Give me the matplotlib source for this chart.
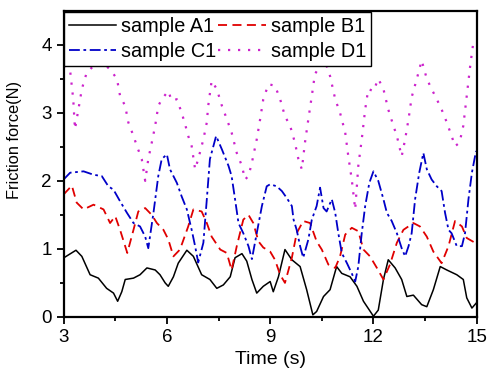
"""Friction force vs time for four samples."""

import matplotlib

matplotlib.use("Agg")
import matplotlib.pyplot as plt

# sample A1 (black, solid)
a1_t = [3.01, 3.2, 3.36, 3.53, 3.77, 4.01, 4.25, 4.45, 4.57, 4.69, 4.79, 5.03, 5.22,
        5.42, 5.66, 5.80, 5.95, 6.04, 6.19, 6.33, 6.58, 6.77, 7.01, 7.25, 7.45, 7.64,
        7.84, 7.98, 8.18, 8.32, 8.47, 8.61, 8.80, 9.0, 9.09, 9.24, 9.43, 9.63, 9.87,
        10.06, 10.24, 10.35, 10.55, 10.74, 10.93, 11.08, 11.32, 11.52, 11.71, 12.0,
        12.14, 12.29, 12.43, 12.63, 12.82, 12.97, 13.16, 13.40, 13.55, 13.74, 13.94,
        14.13, 14.42, 14.61, 14.71, 14.86, 14.98]
a1_f = [0.87, 0.93, 0.98, 0.89, 0.62, 0.57, 0.42, 0.35, 0.23, 0.37, 0.55, 0.57, 0.62,
        0.72, 0.69, 0.62, 0.50, 0.45, 0.59, 0.79, 0.98, 0.89, 0.62, 0.55, 0.42, 0.47,
        0.59, 0.87, 0.93, 0.82, 0.55, 0.35, 0.45, 0.52, 0.37, 0.59, 0.99, 0.84, 0.74,
        0.40, 0.03, 0.08, 0.30, 0.40, 0.74, 0.64, 0.59, 0.45, 0.23, 0.01,
        0.10, 0.55, 0.84, 0.72, 0.55, 0.30, 0.32, 0.18, 0.15, 0.40, 0.74,
        0.69, 0.62, 0.55, 0.28, 0.13, 0.20]

# sample B1 (red, dashed)
b1_t = [3.0, 3.24, 3.38, 3.58, 3.87, 4.16, 4.35, 4.50, 4.64, 4.85, 5.03, 5.17, 5.37,
        5.56, 5.71, 5.90, 6.04, 6.19, 6.38, 6.62, 6.77, 7.01, 7.16, 7.30, 7.55, 7.74,
        7.88, 8.03, 8.22, 8.37, 8.51, 8.66, 8.80, 9.0, 9.14, 9.29, 9.43, 9.63, 9.77,
        9.96, 10.16, 10.35, 10.50, 10.69, 10.89, 11.03, 11.18, 11.37, 11.56, 11.71,
        11.90, 12.10, 12.29, 12.48, 12.68, 12.87, 13.16, 13.35, 13.55, 13.74, 13.98,
        14.18, 14.37, 14.57, 14.71, 14.95]
b1_f = [1.80, 1.93, 1.68, 1.58, 1.65, 1.58, 1.38, 1.48, 1.28, 0.94, 1.28, 1.55, 1.60,
        1.50, 1.38, 1.28, 1.14, 0.89, 0.99, 1.33, 1.58, 1.55, 1.38, 1.18, 0.99, 0.94,
        0.69, 1.04, 1.43, 1.50, 1.38, 1.11, 1.02, 0.96, 0.84, 0.62, 0.50, 0.87, 1.23,
        1.41, 1.38, 1.11, 0.99, 0.77, 0.72, 0.89, 1.21, 1.31, 1.26, 0.99,
        0.89, 0.72, 0.55, 0.77, 1.09, 1.28, 1.38, 1.33, 1.18, 0.96, 0.79,
        1.04, 1.41, 1.33, 1.16, 1.09]

# sample C1 (blue, dash-dot)
c1_t = [3.0, 3.19, 3.58, 3.87, 4.11, 4.30, 4.45, 4.64, 4.84, 5.03, 5.22, 5.37, 5.46,
        5.61, 5.75, 5.85, 6.0, 6.09, 6.29, 6.43, 6.58, 6.72, 6.82, 6.91, 7.06, 7.16,
        7.25, 7.43, 7.60, 7.79, 7.88, 7.98, 8.08, 8.22, 8.37, 8.47, 8.61, 8.76, 8.90,
        9.0, 9.19, 9.34, 9.48, 9.63, 9.68, 9.77, 9.87, 9.96, 10.11, 10.21, 10.35,
        10.45, 10.55, 10.64, 10.79, 10.89, 10.98, 11.08, 11.23, 11.37, 11.47, 11.56,
        11.66, 11.76, 11.88, 12.0, 12.14, 12.29, 12.39, 12.53, 12.68, 12.82, 12.92,
        13.02, 13.11, 13.21, 13.33, 13.45, 13.55, 13.69, 13.84, 13.98, 14.08, 14.18,
        14.27, 14.42, 14.57, 14.66, 14.76, 14.86, 14.98]
c1_f = [2.02, 2.12, 2.14, 2.09, 2.07, 1.92, 1.87, 1.70, 1.53, 1.38, 1.33, 1.18, 1.01,
        1.53, 2.07, 2.32, 2.39, 2.17, 1.97, 1.77, 1.58, 1.28, 1.04, 0.80, 1.09, 1.73,
        2.32, 2.66, 2.46, 2.22, 2.07, 1.73, 1.38, 1.23, 1.04, 0.85, 1.23, 1.63, 1.92,
        1.95, 1.92, 1.85, 1.75, 1.63, 1.43, 1.28, 1.04, 0.87, 1.14, 1.43, 1.63,
        1.90, 1.60, 1.55, 1.73, 1.53, 1.23, 0.94, 0.79, 0.64, 0.52, 0.74,
        1.23, 1.63, 1.97, 2.14, 2.0, 1.73, 1.53, 1.41, 1.23, 1.01, 0.89,
        1.04, 1.23, 1.73, 2.12, 2.41, 2.17, 2.02, 1.92, 1.85, 1.53, 1.28,
        1.23, 1.04, 1.04, 1.23, 1.73, 2.12, 2.44]

# sample D1 (magenta, dotted)
d1_t = [3.0, 3.19, 3.28, 3.33, 3.43, 3.53, 3.67, 3.87, 4.11, 4.35, 4.55, 4.64, 4.79,
        4.88, 5.03, 5.13, 5.27, 5.37, 5.46, 5.56, 5.66, 5.75, 5.85, 6.04, 6.14, 6.29,
        6.43, 6.53, 6.62, 6.72, 6.82, 6.91, 7.06, 7.16, 7.20, 7.30, 7.45, 7.60, 7.74,
        7.88, 8.03, 8.18, 8.27, 8.37, 8.47, 8.61, 8.71, 8.80, 8.95, 9.14, 9.29, 9.43,
        9.58, 9.72, 9.82, 9.92, 10.01, 10.11, 10.21, 10.30, 10.45, 10.59, 10.74,
        10.89, 11.03, 11.18, 11.27, 11.37, 11.47, 11.56, 11.66, 11.76, 11.85, 12.0,
        12.14, 12.29, 12.43, 12.58, 12.68, 12.82, 12.92, 13.02, 13.11, 13.26, 13.40,
        13.55, 13.69, 13.84, 13.98, 14.13, 14.27, 14.37, 14.50, 14.61, 14.71, 14.81,
        14.90, 14.98]
d1_f = [3.69, 3.62, 3.20, 2.76, 3.05, 3.35, 3.59, 3.69, 3.74, 3.64, 3.50, 3.25, 3.10,
        2.86, 2.66, 2.51, 2.32, 2.00, 2.32, 2.56, 2.81, 3.10, 3.20, 3.32, 3.18, 3.20,
        3.00, 2.83, 2.66, 2.51, 2.17, 2.32, 2.61, 2.86, 3.10, 3.47, 3.35, 3.10, 2.91,
        2.71, 2.41, 2.22, 2.02, 2.07, 2.27, 2.61, 2.91, 3.20, 3.42, 3.40, 3.20, 2.95,
        2.81, 2.56, 2.32, 2.17, 2.56, 2.91, 3.25, 3.57, 3.69, 3.76, 3.54,
        3.20, 3.00, 2.71, 2.36, 2.02, 1.58, 2.22, 2.61, 3.05, 3.35, 3.32,
        3.50, 3.35, 3.05, 2.81, 2.66, 2.36, 2.61, 2.91, 3.23, 3.50, 3.77,
        3.50, 3.35, 3.20, 3.05, 2.86, 2.66, 2.51, 2.56, 2.81, 3.25, 3.69,
        4.03, 3.99]


def main():
    plt.rcParams.update({
        "font.family": ["Liberation Sans", "DejaVu Sans"],
        "font.size": 13,
    })

    fig = plt.figure(figsize=(4.93, 3.86), dpi=100)
    ax = fig.add_axes([0.129, 0.179, 0.838, 0.793])

    la, = ax.plot(a1_t, a1_f, color="black", lw=1.1, label="sample A1")
    lb, = ax.plot(b1_t, b1_f, color="#e00000", lw=1.3, ls=(0, (5, 3)), label="sample B1")
    lc, = ax.plot(c1_t, c1_f, color="#0000c8", lw=1.3, ls=(0, (6, 2, 1.5, 2)),
                  label="sample C1")
    ld, = ax.plot(d1_t, d1_f, color="#cc22cc", lw=1.6, ls=(0, (1, 3.5)), label="sample D1")

    ax.set_xlim(3, 15)
    ax.set_ylim(0, 4.5)
    ax.set_xticks([3, 6, 9, 12, 15])
    ax.set_xticks([4.5, 7.5, 10.5, 13.5], minor=True)
    ax.set_yticks([0, 1, 2, 3, 4])
    ax.set_yticks([0.5, 1.5, 2.5, 3.5], minor=True)
    ax.tick_params(which="both", direction="out", top=False, right=False,
                   width=1.3, labelsize=13.5)
    ax.tick_params(which="major", length=5)
    ax.tick_params(which="minor", length=3)
    for sp in ax.spines.values():
        sp.set_linewidth(1.6)

    ax.set_xlabel("Time (s)", fontsize=14)
    ax.set_ylabel("Friction force(N)", fontsize=11.8)
    ax.yaxis.set_label_coords(-0.100, 0.577)

    # matplotlib fills legend columns first, so order handles to read row-wise
    leg = ax.legend([la, lc, lb, ld], ["sample A1", "sample C1", "sample B1", "sample D1"],
                    loc="upper left", bbox_to_anchor=(0.0, 0.995), ncol=2,
                    borderaxespad=0.0, fancybox=False, edgecolor="black",
                    framealpha=1, handlelength=2.4, handletextpad=0.25,
                    columnspacing=0.1, labelspacing=0.3, borderpad=0.25,
                    fontsize=14.3)
    leg.get_frame().set_linewidth(1.0)

    fig.savefig("out.png", dpi=100)
    plt.close(fig)


if __name__ == "__main__":
    main()
